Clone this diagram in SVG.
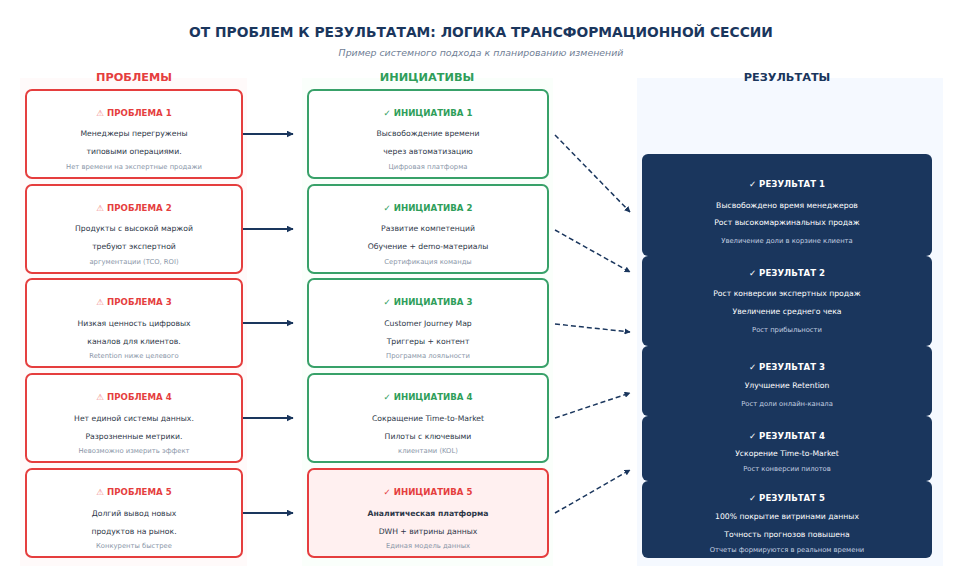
<svg xmlns="http://www.w3.org/2000/svg" width="953" height="568" viewBox="0 0 953 568">
<defs>
<marker id="ah" viewBox="0 0 10 10" refX="9" refY="5" markerWidth="7" markerHeight="7" orient="auto" markerUnits="userSpaceOnUse"><path d="M0,0 L10,5 L0,10 z" fill="#1a365d"/></marker>
<marker id="ah2" viewBox="0 0 10 10" refX="9" refY="5" markerWidth="6" markerHeight="6" orient="auto" markerUnits="userSpaceOnUse"><path d="M0,0 L10,5 L0,10 z" fill="#1a365d"/></marker>
</defs>
<style>
text{font-family:"DejaVu Sans","Noto Sans",sans-serif;text-anchor:middle}
.t{font-size:13.8px;font-weight:bold;fill:#1a365d}
.st{font-size:9.4px;font-style:italic;fill:#718096}
.h{font-size:11.3px;font-weight:bold}
.pb{fill:#fff;stroke:#e53e3e;stroke-width:2}
.ib{fill:#fff;stroke:#38a169;stroke-width:2}
.ibr{fill:#fff0f0;stroke:#e53e3e;stroke-width:2}
.rb{fill:#1a365d}
.pt{font-size:8.6px;font-weight:bold;fill:#e53e3e}
.it{font-size:8.6px;font-weight:bold;fill:#2f9e5a}
.rt{font-size:8.6px;font-weight:bold;fill:#fff}
.l{font-size:7.7px;fill:#2d3748}
.lb{font-size:7.7px;font-weight:bold;fill:#2d3748}
.s{font-size:6.8px;fill:#8a96a8}
.rl{font-size:7.7px;fill:#fff}
.rs{font-size:6.8px;fill:#c3cfe0}
.ic{fill:#f08080}
.sol{stroke:#1a365d;stroke-width:2;fill:none;marker-end:url(#ah)}
.dsh{stroke:#1a365d;stroke-width:1.5;fill:none;stroke-dasharray:5,3;marker-end:url(#ah2)}
</style>
<rect width="953" height="568" fill="#fff"/>
<text class="t" x="481" y="37">ОТ ПРОБЛЕМ К РЕЗУЛЬТАТАМ: ЛОГИКА ТРАНСФОРМАЦИОННОЙ СЕССИИ</text>
<text class="st" x="481" y="56">Пример системного подхода к планированию изменений</text>
<rect x="20" y="78" width="227" height="488" fill="#fffafa"/>
<rect x="302" y="78" width="251" height="488" fill="#fafffb"/>
<rect x="637" y="78" width="306" height="488" fill="#f5f9ff"/>
<text class="h" x="134" y="81" fill="#e53e3e">ПРОБЛЕМЫ</text>
<text class="h" x="427" y="81" fill="#2f9e5a">ИНИЦИАТИВЫ</text>
<text class="h" x="787" y="81" fill="#1a365d">РЕЗУЛЬТАТЫ</text>

<g id="p1"><rect class="pb" x="26" y="90" width="216" height="88" rx="6"/>
<text class="pt" x="134" y="116"><tspan class="ic">⚠</tspan> ПРОБЛЕМА 1</text>
<text class="l" x="134" y="136">Менеджеры перегружены</text>
<text class="l" x="134" y="154">типовыми операциями.</text>
<text class="s" x="134" y="169">Нет времени на экспертные продажи</text></g>
<g id="p2"><rect class="pb" x="26" y="185" width="216" height="88" rx="6"/>
<text class="pt" x="134" y="211"><tspan class="ic">⚠</tspan> ПРОБЛЕМА 2</text>
<text class="l" x="134" y="231">Продукты с высокой маржой</text>
<text class="l" x="134" y="249">требуют экспертной</text>
<text class="s" x="134" y="264">аргументации (TCO, ROI)</text></g>
<g id="p3"><rect class="pb" x="26" y="279" width="216" height="88" rx="6"/>
<text class="pt" x="134" y="305"><tspan class="ic">⚠</tspan> ПРОБЛЕМА 3</text>
<text class="l" x="134" y="326">Низкая ценность цифровых</text>
<text class="l" x="134" y="344">каналов для клиентов.</text>
<text class="s" x="134" y="358">Retention ниже целевого</text></g>
<g id="p4"><rect class="pb" x="26" y="374" width="216" height="88" rx="6"/>
<text class="pt" x="134" y="400"><tspan class="ic">⚠</tspan> ПРОБЛЕМА 4</text>
<text class="l" x="134" y="421">Нет единой системы данных.</text>
<text class="l" x="134" y="439">Разрозненные метрики.</text>
<text class="s" x="134" y="453">Невозможно измерить эффект</text></g>
<g id="p5"><rect class="pb" x="26" y="469" width="216" height="88" rx="6"/>
<text class="pt" x="134" y="495"><tspan class="ic">⚠</tspan> ПРОБЛЕМА 5</text>
<text class="l" x="134" y="516">Долгий вывод новых</text>
<text class="l" x="134" y="534">продуктов на рынок.</text>
<text class="s" x="134" y="548">Конкуренты быстрее</text></g>

<g id="i1"><rect class="ib" x="308" y="90" width="240" height="88" rx="6"/>
<text class="it" x="428" y="116">✓ ИНИЦИАТИВА 1</text>
<text class="l" x="428" y="136">Высвобождение времени</text>
<text class="l" x="428" y="154">через автоматизацию</text>
<text class="s" x="428" y="169">Цифровая платформа</text></g>
<g id="i2"><rect class="ib" x="308" y="185" width="240" height="88" rx="6"/>
<text class="it" x="428" y="211">✓ ИНИЦИАТИВА 2</text>
<text class="l" x="428" y="231">Развитие компетенций</text>
<text class="l" x="428" y="249">Обучение + demo-материалы</text>
<text class="s" x="428" y="264">Сертификация команды</text></g>
<g id="i3"><rect class="ib" x="308" y="279" width="240" height="88" rx="6"/>
<text class="it" x="428" y="305">✓ ИНИЦИАТИВА 3</text>
<text class="l" x="428" y="326">Customer Journey Map</text>
<text class="l" x="428" y="344">Триггеры + контент</text>
<text class="s" x="428" y="358">Программа лояльности</text></g>
<g id="i4"><rect class="ib" x="308" y="374" width="240" height="88" rx="6"/>
<text class="it" x="428" y="400">✓ ИНИЦИАТИВА 4</text>
<text class="l" x="428" y="421">Сокращение Time-to-Market</text>
<text class="l" x="428" y="439">Пилоты с ключевыми</text>
<text class="s" x="428" y="453">клиентами (KOL)</text></g>
<g id="i5"><rect class="ibr" x="308" y="469" width="240" height="88" rx="6"/>
<text class="pt" x="428" y="495">✓ ИНИЦИАТИВА 5</text>
<text class="lb" x="428" y="516">Аналитическая платформа</text>
<text class="l" x="428" y="534">DWH + витрины данных</text>
<text class="s" x="428" y="548">Единая модель данных</text></g>

<g id="r1"><rect class="rb" x="642" y="154" width="290" height="102" rx="6"/>
<text class="rt" x="787" y="187">✓ РЕЗУЛЬТАТ 1</text>
<text class="rl" x="787" y="208">Высвобождено время менеджеров</text>
<text class="rl" x="787" y="225">Рост высокомаржинальных продаж</text>
<text class="rs" x="787" y="243">Увеличение доли в корзине клиента</text></g>
<g id="r2"><rect class="rb" x="642" y="256" width="290" height="90" rx="6"/>
<text class="rt" x="787" y="276">✓ РЕЗУЛЬТАТ 2</text>
<text class="rl" x="787" y="296">Рост конверсии экспертных продаж</text>
<text class="rl" x="787" y="314">Увеличение среднего чека</text>
<text class="rs" x="787" y="332">Рост прибыльности</text></g>
<g id="r3"><rect class="rb" x="642" y="346" width="290" height="70" rx="6"/>
<text class="rt" x="787" y="370">✓ РЕЗУЛЬТАТ 3</text>
<text class="rl" x="787" y="388">Улучшение Retention</text>
<text class="rs" x="787" y="406">Рост доли онлайн-канала</text></g>
<g id="r4"><rect class="rb" x="642" y="416" width="290" height="65" rx="6"/>
<text class="rt" x="787" y="439">✓ РЕЗУЛЬТАТ 4</text>
<text class="rl" x="787" y="456">Ускорение Time-to-Market</text>
<text class="rs" x="787" y="471">Рост конверсии пилотов</text></g>
<g id="r5"><rect class="rb" x="642" y="481" width="290" height="77" rx="6"/>
<text class="rt" x="787" y="501">✓ РЕЗУЛЬТАТ 5</text>
<text class="rl" x="787" y="519">100% покрытие витринами данных</text>
<text class="rl" x="787" y="537">Точность прогнозов повышена</text>
<text class="rs" x="787" y="552">Отчеты формируются в реальном времени</text></g>

<g id="connectors">
<line class="sol" x1="243" y1="134" x2="293" y2="134"/>
<line class="sol" x1="243" y1="229" x2="293" y2="229"/>
<line class="sol" x1="243" y1="323" x2="293" y2="323"/>
<line class="sol" x1="243" y1="418" x2="293" y2="418"/>
<line class="sol" x1="243" y1="513" x2="293" y2="513"/>
<line class="dsh" x1="555" y1="135" x2="630" y2="212"/>
<line class="dsh" x1="555" y1="230" x2="630" y2="272"/>
<line class="dsh" x1="555" y1="324" x2="630" y2="332"/>
<line class="dsh" x1="555" y1="418" x2="630" y2="393"/>
<line class="dsh" x1="555" y1="513" x2="630" y2="470"/>
</g>
</svg>
